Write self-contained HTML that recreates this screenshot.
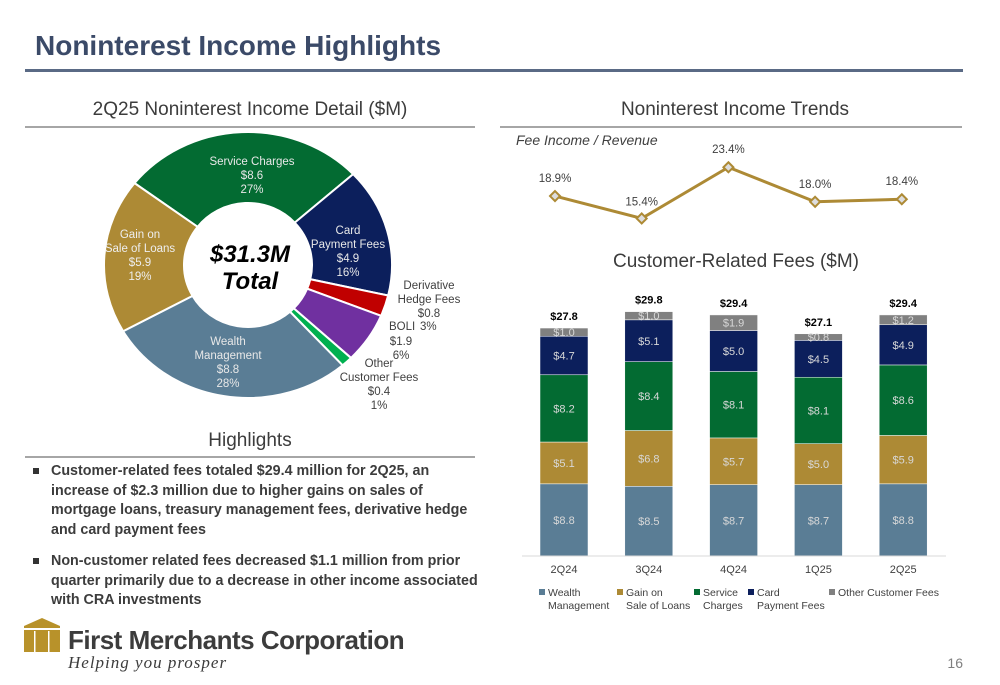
<!DOCTYPE html>
<html><head><meta charset="utf-8"><style>
body{margin:0;width:1000px;height:685px;background:#fff;font-family:"Liberation Sans",sans-serif;position:relative;overflow:hidden}
.abs{position:absolute}
.h2{font-size:19px;color:#3c3c3c;text-align:center}
.hl{position:absolute;height:2px;background:#a6a6a6}
ul{margin:0;padding:0;list-style:none}
li{position:relative;padding-left:26px;font-weight:bold;font-size:14.3px;line-height:19.5px;color:#3c3c3c;margin-bottom:12px}
li:before{content:"";position:absolute;left:8px;top:6px;width:6px;height:6px;background:#333}
</style></head><body>
<div class="abs" style="left:35px;top:30px;font-size:28px;font-weight:bold;color:#3b4a68">Noninterest Income Highlights</div>
<div class="abs" style="left:25px;top:69px;width:938px;height:3px;background:#5a6a85"></div>

<div class="abs h2" style="left:25px;top:99px;width:450px">2Q25 Noninterest Income Detail ($M)</div>
<div class="hl" style="left:25px;top:126px;width:450px"></div>
<div class="abs h2" style="left:500px;top:99px;width:470px">Noninterest Income Trends</div>
<div class="hl" style="left:500px;top:126px;width:462px"></div>
<div class="abs h2" style="left:25px;top:430px;width:450px">Highlights</div>
<div class="hl" style="left:25px;top:456px;width:450px"></div>

<div class="abs" style="left:25px;top:462px;width:462px">
<ul>
<li>Customer-related fees totaled $29.4 million for 2Q25, an increase of $2.3 million due to higher gains on sales of mortgage loans, treasury management fees, derivative hedge and card payment fees</li>
<li>Non-customer related fees decreased $1.1 million from prior quarter primarily due to a decrease in other income associated with CRA investments</li>
</ul></div>

<svg class="abs" style="left:0;top:0" width="1000" height="685" id="svg">
<g id="donut"></g>
<g id="line"></g>
<g id="bars"></g>
<text x="516" y="145" font-size="14" font-style="italic" fill="#404040">Fee Income / Revenue</text>
<text x="736" y="267" font-size="19" fill="#3c3c3c" text-anchor="middle">Customer-Related Fees ($M)</text>
<text x="250" y="262" font-size="24" font-weight="bold" font-style="italic" text-anchor="middle" fill="#000">$31.3M</text>
<text x="250" y="289" font-size="24" font-weight="bold" font-style="italic" text-anchor="middle" fill="#000">Total</text>
<g>
<polygon points="24,626 42,618 60,626 60,652 24,652" fill="#b8922a"/>
<rect x="24" y="628" width="36" height="2" fill="#fff"/>
<rect x="34" y="631" width="1.5" height="21" fill="#fff"/>
<rect x="48" y="631" width="1.5" height="21" fill="#fff"/>
<text x="68" y="649" font-size="26" font-weight="bold" fill="#3c3c3c" letter-spacing="-0.5">First Merchants Corporation</text>
<text x="68" y="668" font-size="17" font-style="italic" font-family="Liberation Serif,serif" fill="#3c3c3c" letter-spacing="1">Helping you prosper</text>
</g>
<text x="963" y="668" font-size="14" fill="#7f7f7f" text-anchor="end">16</text>
</svg>

<script>
const NS="http://www.w3.org/2000/svg";
function mk(tag,attrs,parent,txt){const e=document.createElementNS(NS,tag);for(const k in attrs)e.setAttribute(k,attrs[k]);if(txt!==undefined)e.textContent=txt;parent.appendChild(e);return e;}

const donutNames=["Service Charges","Card Payment Fees","Derivative Hedge Fees","BOLI","Other Customer Fees","Wealth Management","Gain on Sale of Loans"];
const donutValues=[8.6,4.9,0.8,1.9,0.4,8.8,5.9];
const donutColors=["#036b32","#0c1f5c","#c00000","#7030a0","#00b050","#5a7d95","#ad8a35"];
const donut=document.getElementById('donut');
const cx=248,cy=265,rx=144,ry=133,irx=64,iry=62,start=-52;
const tot=donutValues.reduce((a,b)=>a+b,0);
function pt(a,rX,rY){const r=a*Math.PI/180;return [cx+rX*Math.sin(r),cy-rY*Math.cos(r)];}
let a0=start;
donutValues.forEach((v,i)=>{
  const a1=a0+v/tot*360;const big=(a1-a0)>180?1:0;
  const p0=pt(a0,rx,ry),p1=pt(a1,rx,ry),q1=pt(a1,irx,iry),q0=pt(a0,irx,iry);
  const p=mk('path',{d:`M${p0} A${rx},${ry} 0 ${big} 1 ${p1} L${q1} A${irx},${iry} 0 ${big} 0 ${q0}Z`,fill:donutColors[i],stroke:'#fff','stroke-width':2},donut);
  
  
  a0=a1;
});
const donutLabels=[
 [252,165,["Service Charges","$8.6","27%"],"#e8e8e8"],
 [348,234,["Card","Payment Fees","$4.9","16%"],"#e8e8e8"],
 [140,238,["Gain on","Sale of Loans","$5.9","19%"],"#eee"],
 [228,345,["Wealth","Management","$8.8","28%"],"#e8e8e8"],
 [429,289,["Derivative","Hedge Fees","$0.8"],"#404040"],
 [401,345,["$1.9","6%"],"#404040"],
 [379,367,["Other","Customer Fees","$0.4","1%"],"#404040"]];
donutLabels.forEach(l=>{l[2].forEach((s,j)=>{const t=mk('text',{x:l[0],y:l[1]+j*14,'font-size':11.5,fill:l[3],'text-anchor':'middle'},donut,s);
 });});
let t=mk('text',{x:389,y:330,'font-size':11.5,fill:'#404040'},donut,'BOLI');
t=mk('text',{x:420,y:330,'font-size':11.5,fill:'#404040'},donut,'3%');

const lineQuarters=["2Q24","3Q24","4Q24","1Q25","2Q25"];
const feeRatio=[18.9,15.4,23.4,18.0,18.4];
const line=document.getElementById('line');
const lx=i=>555+i*86.7, ly=v=>317-6.4*v;
mk('polyline',{points:feeRatio.map((v,i)=>lx(i)+','+ly(v)).join(' '),fill:'none',stroke:'#ad8a35','stroke-width':3},line);
feeRatio.forEach((v,i)=>{
 const x=lx(i),y=ly(v);
 const m=mk('polygon',{points:`${x},${y-5} ${x+5},${y} ${x},${y+5} ${x-5},${y}`,fill:'#ddd',stroke:'#ad8a35','stroke-width':2},line);
 
 const tl=mk('text',{x:x,y:i==1?y-13:y-14,'font-size':11.5,fill:'#404040','text-anchor':'middle'},line,v.toFixed(1)+'%');
 
});

const barQuarters=["2Q24","3Q24","4Q24","1Q25","2Q25"];
const seriesNames=["Wealth Management","Gain on Sale of Loans","Service Charges","Card Payment Fees","Other Customer Fees"];
const wealth=[8.8,8.5,8.7,8.7,8.8];
const gainOnSale=[5.1,6.8,5.7,5.0,5.9];
const serviceCharges=[8.2,8.4,8.1,8.1,8.6];
const cardFees=[4.7,5.1,5.0,4.5,4.9];
const otherFees=[1.0,1.0,1.9,0.8,1.2];
const totals=[27.8,29.8,29.4,27.1,29.4];
const seriesColors=["#5a7d95","#ad8a35","#036b32","#0c1f5c","#808080"];
const series=[wealth,gainOnSale,serviceCharges,cardFees,otherFees];
const bars=document.getElementById('bars');
const base=556, sc=8.2, bw=48;
const bx=i=>564+i*84.8, by=v=>base-v*sc;
barQuarters.forEach((q,i)=>{
 let cum=0;
 series.forEach((s,k)=>{
  const y0=by(cum),y1=by(cum+s[i]);
  const r=mk('rect',{x:bx(i)-bw/2,y:y1,width:bw,height:y0-y1,fill:seriesColors[k],stroke:'#fff','stroke-width':0.5},bars);
  
  const lt=mk('text',{x:bx(i),y:(y0+y1)/2+4,'font-size':11,fill:'#d8d8d8','text-anchor':'middle'},bars,'$'+s[i].toFixed(1));
  
  cum+=s[i];
 });
 const tt=mk('text',{x:bx(i),y:by(totals[i])-8,'font-size':11,'font-weight':'bold',fill:'#000','text-anchor':'middle'},bars,'$'+totals[i].toFixed(1));
 
 const xl=mk('text',{x:bx(i),y:573,'font-size':11,fill:'#404040','text-anchor':'middle'},bars,q);
 
});
mk('line',{x1:522,y1:base,x2:946,y2:base,stroke:'#d9d9d9','stroke-width':1},bars);
const legX=[539,617,694,748,829];
const legLines=[["Wealth","Management"],["Gain on","Sale of Loans"],["Service","Charges"],["Card","Payment Fees"],["Other Customer Fees"]];
legLines.forEach((ls,k)=>{
 const g=mk('g',{},bars);
 
 mk('rect',{x:legX[k],y:589,width:6,height:6,fill:seriesColors[k]},g);
 ls.forEach((s,j)=>mk('text',{x:legX[k]+9,y:596+j*13,'font-size':10.5,fill:'#404040'},g,s));
});
</script>
</body></html>
